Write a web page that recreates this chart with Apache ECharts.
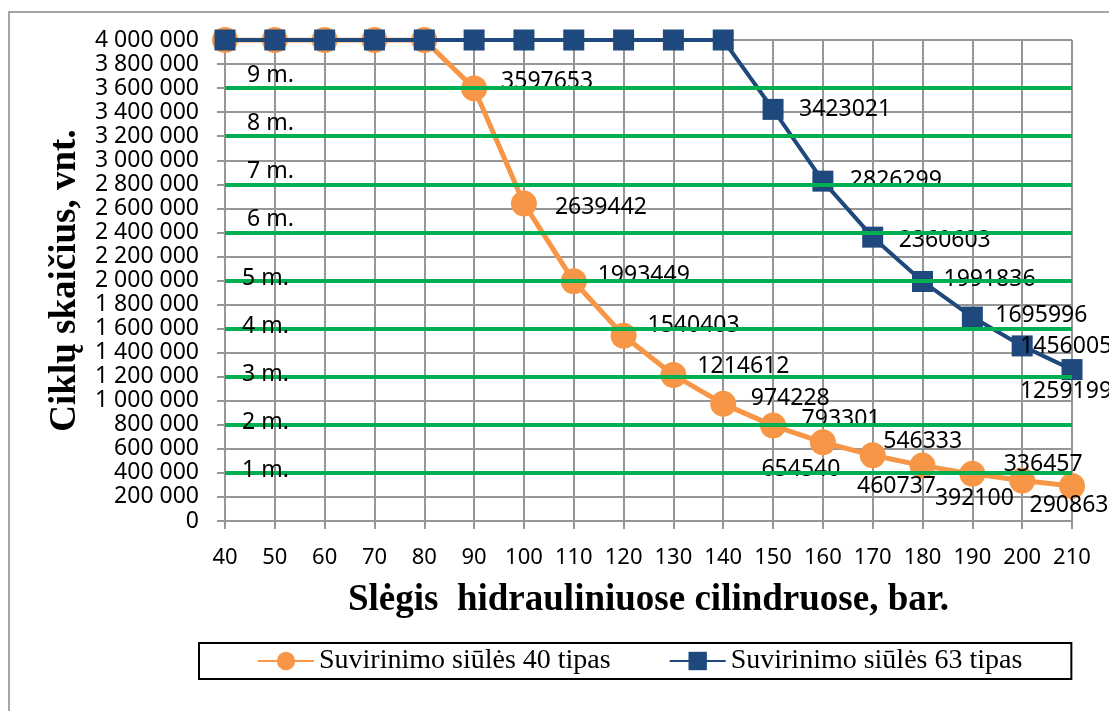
<!DOCTYPE html>
<html>
<head>
<meta charset="utf-8">
<script src="https://cdn.jsdelivr.net/npm/echarts@6/dist/echarts.min.js"></script>
<style>html,body{margin:0;padding:0;background:#fff}#c{width:1109px;height:711px}</style>
</head>
<body>
<div id="c"></div>
<script>
// ---- data ----
const categories = ['40','50','60','70','80','90','100','110','120','130','140','150','160','170','180','190','200','210'];
const seriesNames = ['Suvirinimo siūlės 40 tipas', 'Suvirinimo siūlės 63 tipas'];
const cycles40 = [4000000,4000000,4000000,4000000,4000000,3597653,2639442,1993449,1540403,1214612,974228,793301,654540,546333,460737,392100,336457,290863];
const cycles63 = [4000000,4000000,4000000,4000000,4000000,4000000,4000000,4000000,4000000,4000000,4000000,3423021,2826299,2360603,1991836,1695996,1456005,1259199];
const yearLevels = [400000,800000,1200000,1600000,2000000,2400000,2800000,3200000,3600000];
const yearLabels = ['1 m.','2 m.','3 m.','4 m.','5 m.','6 m.','7 m.','8 m.','9 m.'];
const xTitle = 'Slėgis  hidrauliniuose cilindruose, bar.';
const yTitle = 'Ciklų skaičius, vnt.';

// ---- label placement (style only): offset of label centre from point centre ----
const labelOffset40 = {
  '90':[73,-7], '100':[77,4], '110':[70,-6], '120':[70,-10], '130':[70,-8], '140':[67,-5],
  '150':[68,-6], '160':[-22,27], '170':[50,-14], '180':[-26,21], '190':[2,25], '200':[21,-16], '210':[-3,19]
};
const labelOffset63 = {
  '150':[72,0], '160':[73,-1], '170':[72,3], '180':[67,-2], '190':[69,-2], '200':[44,1], '210':[-6,22]
};

const labelFont = {fontFamily:'Noto Sans', fontSize:23, color:'#000', textBorderWidth:0};

function buildData(values, offsets) {
  return values.map((v, i) => {
    const off = offsets[categories[i]];
    if (!off) return {value: v, label: {show: false}};
    return {value: v, label: Object.assign({show: true, position: 'inside', offset: off}, labelFont)};
  });
}

const chart = echarts.init(document.getElementById('c'), null, {renderer: 'canvas'});
const gridColor = '#969696';

const option = {
  animation: false,
  backgroundColor: '#fff',
  graphic: [{
    type: 'rect', silent: true, z: -10,
    shape: {x: 9, y: 12, width: 1300, height: 900},
    style: {fill: 'none', stroke: '#a6a6a6', lineWidth: 2}
  }],
  grid: {left: 225, right: 37, top: 40, bottom: 190},
  legend: {
    data: seriesNames,
    left: 199, top: 643,
    padding: [3, 49, 3, 58],
    itemGap: 58,
    itemWidth: 56, itemHeight: 23,
    borderColor: '#000', borderWidth: 2,
    textStyle: {fontFamily: 'Liberation Serif', fontSize: 28, color: '#000', lineHeight: 30}
  },
  xAxis: {
    type: 'category', data: categories, boundaryGap: false,
    name: xTitle, nameLocation: 'middle', nameGap: 61,
    nameTextStyle: {fontFamily: 'Liberation Serif', fontWeight: 'bold', fontSize: 37, color: '#000'},
    axisLine: {show: true, lineStyle: {color: gridColor, width: 2}},
    axisTick: {show: true, length: 8, lineStyle: {color: gridColor, width: 2}},
    axisLabel: {fontFamily: 'Noto Sans', fontSize: 22, color: '#000', margin: 26},
    splitLine: {show: true, lineStyle: {color: gridColor, width: 2}}
  },
  yAxis: {
    type: 'value', min: 0, max: 4000000, interval: 200000,
    name: yTitle, nameLocation: 'middle', nameGap: 135,
    nameTextStyle: {fontFamily: 'Liberation Serif', fontWeight: 'bold', fontSize: 37, color: '#000'},
    axisLine: {show: true, lineStyle: {color: gridColor, width: 2}},
    axisTick: {show: true, length: 8, lineStyle: {color: gridColor, width: 2}},
    axisLabel: {
      fontFamily: 'Noto Sans', fontSize: 23, color: '#000', margin: 26,
      formatter: v => String(v).replace(/\B(?=(\d{3})+(?!\d))/g, ' ')
    },
    splitLine: {show: true, lineStyle: {color: gridColor, width: 2}}
  },
  series: [
    {
      name: 'levels', type: 'line', data: [], silent: true, z: 1,
      markLine: {
        silent: true, symbol: 'none', animation: false,
        lineStyle: {color: '#00B050', width: 4, type: 'solid'},
        emphasis: {disabled: true},
        data: yearLevels.map((v, i) => ({
          yAxis: v,
          label: Object.assign({
            show: true, formatter: yearLabels[i], position: 'insideStartTop',
            distance: i >= 5 ? [22, 1] : [17, -9]
          }, labelFont)
        }))
      }
    },
    {
      name: seriesNames[0], type: 'line', z: 3,
      data: buildData(cycles40, labelOffset40),
      symbol: 'circle', symbolSize: 26,
      itemStyle: {color: '#F79646'},
      lineStyle: {color: '#F79646', width: 5},
      emphasis: {disabled: true}
    },
    {
      name: seriesNames[1], type: 'line', z: 4,
      data: buildData(cycles63, labelOffset63),
      symbol: 'rect', symbolSize: 21,
      itemStyle: {color: '#1F497D'},
      lineStyle: {color: '#1F497D', width: 4},
      emphasis: {disabled: true}
    }
  ]
};
chart.setOption(option);
</script>
</body>
</html>
